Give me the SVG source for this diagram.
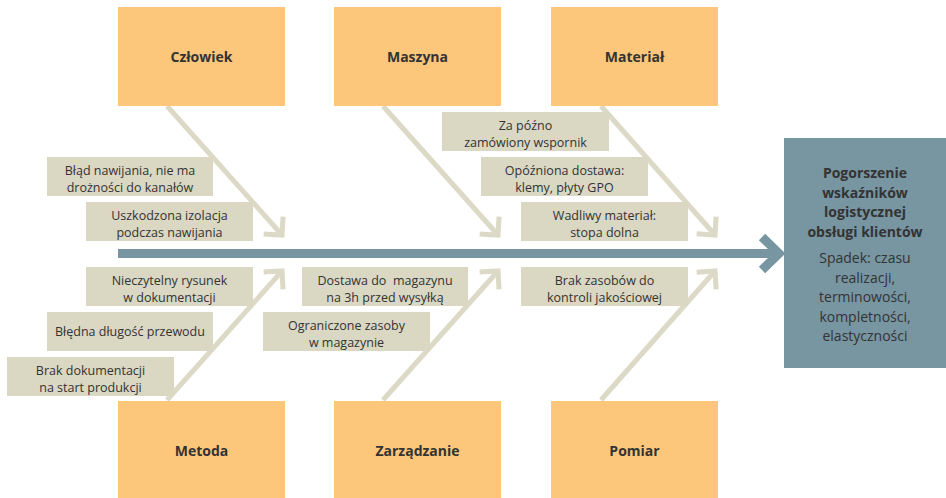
<svg xmlns="http://www.w3.org/2000/svg" width="946" height="498" viewBox="0 0 946 498">
<defs>
<style>
.cat{fill:#fcc77b}
.cause{fill:#dad7c3}
.t{font-family:"Open Sans","Liberation Sans",sans-serif;font-size:12.5px;fill:#333;text-anchor:middle}
.tb{font-family:"Open Sans","Liberation Sans",sans-serif;font-size:14px;font-weight:bold;fill:#333;text-anchor:middle}
.te{font-family:"Open Sans","Liberation Sans",sans-serif;font-size:14px;fill:#333;text-anchor:middle}
.bone{stroke:#dcd9c6;stroke-width:5;fill:none;marker-end:url(#ah)}
</style>
<marker id="ah" markerUnits="userSpaceOnUse" markerWidth="40" markerHeight="40" viewBox="-30 -20 40 40" refX="0" refY="0" orient="auto">
<path d="M-13,-13 L0,0 L-13,13" fill="none" stroke="#dcd9c6" stroke-width="5"/>
</marker>
</defs>
<rect width="946" height="498" fill="#ffffff"/>

<g id="connectors">
<line class="bone" x1="167" y1="106" x2="282" y2="235"/>
<line class="bone" x1="383" y1="106" x2="498" y2="235"/>
<line class="bone" x1="601" y1="106" x2="715" y2="235"/>
<line class="bone" x1="167" y1="400" x2="282" y2="271"/>
<line class="bone" x1="383" y1="400" x2="498" y2="271"/>
<line class="bone" x1="601" y1="400" x2="715" y2="271"/>
<line x1="118" y1="253.5" x2="778" y2="253.5" stroke="#7895a2" stroke-width="9"/>
<polyline points="762,237 779,253.5 762,270" fill="none" stroke="#7895a2" stroke-width="9"/>
</g>

<g id="cat-czlowiek"><rect class="cat" x="118" y="7" width="167" height="99"/><text class="tb" x="201.5" y="62">Człowiek</text></g>
<g id="cat-maszyna"><rect class="cat" x="334" y="7" width="167" height="99"/><text class="tb" x="417.5" y="62">Maszyna</text></g>
<g id="cat-material"><rect class="cat" x="551" y="7" width="167" height="99"/><text class="tb" x="634.5" y="62">Materiał</text></g>
<g id="cat-metoda"><rect class="cat" x="118" y="401" width="167" height="97"/><text class="tb" x="201.5" y="456">Metoda</text></g>
<g id="cat-zarzadzanie"><rect class="cat" x="334" y="401" width="167" height="97"/><text class="tb" x="417.5" y="456">Zarządzanie</text></g>
<g id="cat-pomiar"><rect class="cat" x="551" y="401" width="167" height="97"/><text class="tb" x="634.5" y="456">Pomiar</text></g>

<g id="c1"><rect class="cause" x="47" y="157" width="166" height="39"/><text class="t" x="130" y="174.5">Błąd nawijania, nie ma</text><text class="t" x="130" y="191.5">drożności do kanałów</text></g>
<g id="c2"><rect class="cause" x="86" y="202" width="167" height="39"/><text class="t" x="169.5" y="219.5">Uszkodzona izolacja</text><text class="t" x="169.5" y="236.5">podczas nawijania</text></g>
<g id="c3"><rect class="cause" x="86" y="267" width="167" height="39"/><text class="t" x="169.5" y="284.5">Nieczytelny rysunek</text><text class="t" x="169.5" y="301.5">w dokumentacji</text></g>
<g id="c4"><rect class="cause" x="47" y="312" width="166" height="39"/><text class="t" x="130" y="336">Błędna długość przewodu</text></g>
<g id="c5"><rect class="cause" x="7" y="357" width="167" height="39"/><text class="t" x="90.5" y="374.5">Brak dokumentacji</text><text class="t" x="90.5" y="391.5">na start produkcji</text></g>
<g id="c6"><rect class="cause" x="442" y="112" width="167" height="39"/><text class="t" x="525.5" y="129.5">Za późno</text><text class="t" x="525.5" y="146.5">zamówiony wspornik</text></g>
<g id="c7"><rect class="cause" x="481" y="157" width="167" height="39"/><text class="t" x="564.5" y="174.5">Opóźniona dostawa:</text><text class="t" x="564.5" y="191.5">klemy, płyty GPO</text></g>
<g id="c8"><rect class="cause" x="521" y="202" width="167" height="39"/><text class="t" x="604.5" y="219.5">Wadliwy materiał:</text><text class="t" x="604.5" y="236.5">stopa dolna</text></g>
<g id="c9"><rect class="cause" x="302" y="267" width="166" height="39"/><text class="t" x="385" y="284.5" xml:space="preserve">Dostawa do  magazynu</text><text class="t" x="385" y="301.5">na 3h przed wysyłką</text></g>
<g id="c10"><rect class="cause" x="263" y="312" width="167" height="39"/><text class="t" x="346.5" y="329.5">Ograniczone zasoby</text><text class="t" x="346.5" y="346.5">w magazynie</text></g>
<g id="c11"><rect class="cause" x="521" y="267" width="167" height="39"/><text class="t" x="604.5" y="284.5">Brak zasobów do</text><text class="t" x="604.5" y="301.5">kontroli jakościowej</text></g>

<g id="effect">
<rect x="784" y="138" width="162" height="230" fill="#7895a2"/>
<text class="tb" x="865" y="178">Pogorszenie</text>
<text class="tb" x="865" y="197.5">wskaźników</text>
<text class="tb" x="865" y="217">logistycznej</text>
<text class="tb" x="865" y="236.5">obsługi klientów</text>
<text class="te" x="865" y="263">Spadek: czasu</text>
<text class="te" x="865" y="282.5">realizacji,</text>
<text class="te" x="865" y="302">terminowości,</text>
<text class="te" x="865" y="321.5">kompletności,</text>
<text class="te" x="865" y="341">elastyczności</text>
</g>
</svg>
